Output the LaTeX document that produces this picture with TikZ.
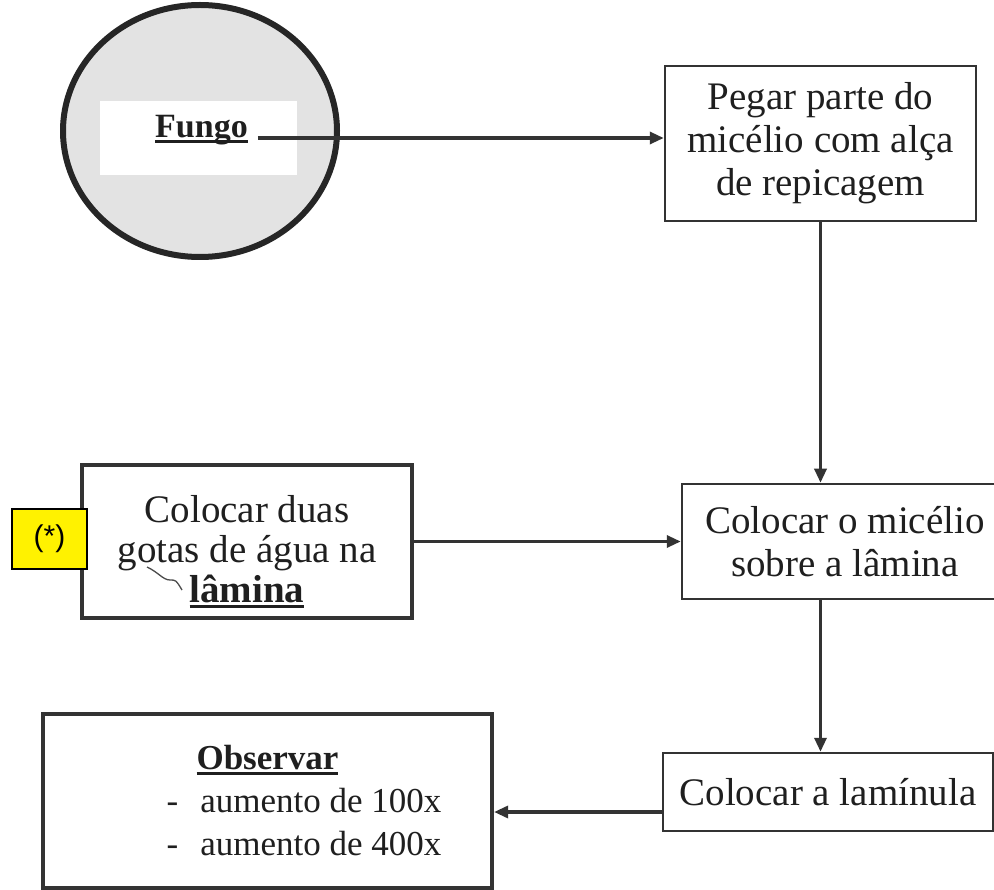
\documentclass[tikz,border=0pt]{standalone}
\usepackage{fontspec}
\setmainfont{Liberation Serif}
\newfontfamily\arialfont{Liberation Sans}
\usetikzlibrary{arrows.meta,shapes.geometric}
\newcommand{\sublinha}[1]{\setbox0\hbox{#1}\rlap{\rule[-0.14em]{\wd0}{0.08em}}\box0}

\begin{document}
\begin{tikzpicture}[x=1pt,y=-1pt,
        linha/.style={draw=black!80, line width=2.5pt},
        caixa/.style={linha, rectangle, inner sep=0pt, align=center, text=black!88,
                font=\fontsize{39}{43}\selectfont},
        caixagrossa/.style={caixa, line width=4.2pt},
        seta/.style={draw=black!80, line width=3.2pt, -{Triangle[length=14pt,width=12pt]}}]

                \useasboundingbox[fill=white] (0,0) rectangle (994,890);

                \node[draw=black!85, line width=6pt, fill=black!11, ellipse, inner sep=0pt,
                minimum width=274pt, minimum height=252pt] (placa) at (200,131) {};
                \fill[white] (100,101) rectangle (297,175);
                \node[anchor=base west, inner sep=0pt, text=black!88,
                font=\fontsize{34}{38}\selectfont\bfseries] (fungo) at (155,138) {\sublinha{Fungo}};

                \node[caixa, minimum width=311pt, minimum height=155pt] (pegar) at (820.5,143.5)
                {Pegar parte do\\micélio com alça\\de repicagem};

                \node[caixa, minimum width=326pt, minimum height=115pt] (lamina) at (845,541.5)
                {Colocar o micélio\\sobre a lâmina};

                \node[caixagrossa, minimum width=330pt, minimum height=153pt,
                font=\fontsize{39}{40}\selectfont] (gotas) at (247,541.5)
                {\rule{0pt}{47pt}Colocar duas\\gotas de água na\\\sublinha{\textbf{lâmina}}};

                \node[draw=black, line width=2pt, fill=yellow, minimum width=75pt, minimum height=60pt,
                inner sep=0pt, font=\arialfont\fontsize{30}{33}\selectfont] (asterisco) at (49.5,539) {(*)};

                \node[caixa, minimum width=330pt, minimum height=78pt] (laminula) at (828,792)
                {Colocar a lamínula};

                \node[caixagrossa, minimum width=449pt, minimum height=174pt,
                font=\fontsize{35}{43}\selectfont] (observar) at (267.5,801)
                {\sublinha{\textbf{Observar}}\\
                \hspace*{73pt}-\hspace{22pt}aumento de 100x\\
                \hspace*{73pt}-\hspace{22pt}aumento de 400x};

                \draw[black!70, line width=1.3pt] (147,567) .. controls (158,572) and (163,580) .. (170,580)
                .. controls (176,580) .. (182,590);

                \coordinate (saida) at ([yshift=-20pt]laminula.west);

                \draw[seta] ([xshift=10pt]fungo.base east) -- (fungo.base east -| pegar.west);
                \draw[seta] (pegar.south) -- (pegar.south |- lamina.north);
                \draw[seta] (gotas.east) -- (gotas.east -| lamina.west);
                \draw[seta] (lamina.south -| pegar.south) -- (laminula.north -| pegar.south);
                \draw[seta] (saida) -- (saida -| observar.east);
\end{tikzpicture}
\end{document}
